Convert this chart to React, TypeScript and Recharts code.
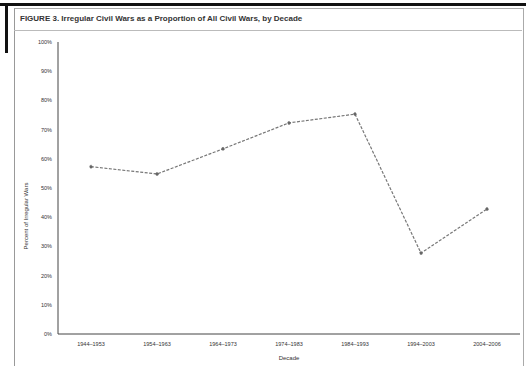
import React from 'react';
import { LineChart, Line, XAxis, YAxis, Label } from 'recharts';

const decades = ['1944–1953', '1954–1963', '1964–1973', '1974–1983', '1984–1993', '1994–2003', '2004–2006'];
const irregularShare = [0.573, 0.548, 0.634, 0.723, 0.753, 0.277, 0.428];
const yTicks = [0, 0.1, 0.2, 0.3, 0.4, 0.5, 0.6, 0.7, 0.8, 0.9, 1.0];
const title = 'FIGURE 3. Irregular Civil Wars as a Proportion of All Civil Wars, by Decade';
const yLabel = 'Percent of Irregular Wars';

const data = decades.map((d, i) => ({ decade: d, share: irregularShare[i] }));

const font = 'Arial, "Liberation Sans", sans-serif';

const YLabelContent = () => (
  <text x={26} y={216} transform="rotate(-90, 26, 216)" textAnchor="middle" dominantBaseline="central" fontSize={6} fill="#333" fontFamily={font}>
    {yLabel}
  </text>
);

export default function App() {
  return (
    <div style={{ position: 'fixed', left: 0, top: 0, width: 528, height: 366, background: '#fff', fontFamily: font }}>
      <div style={{ position: 'absolute', left: 0, top: 3, width: 526, height: 3, background: '#111' }} />
      <div style={{ position: 'absolute', left: 5, top: 3, width: 3, height: 50, background: '#111' }} />
      <div style={{ position: 'absolute', left: 14, top: 8, width: 508, height: 358, borderLeft: '1px solid #999', borderTop: '1px solid #aaa', borderRight: '1px solid #aaa' }} />
      <div style={{ position: 'absolute', left: 14, top: 30, width: 508, height: 1, background: '#bbb' }} />
      <div style={{ position: 'absolute', left: 20, top: 14, fontSize: 8, fontWeight: 600, color: '#333', whiteSpace: 'nowrap' }}>{title}</div>
      <div style={{ position: 'absolute', left: 0, top: 0 }}>
        <LineChart width={528} height={366} data={data} margin={{ top: 42, right: 8, bottom: 8, left: 0 }}>
          <XAxis
            dataKey="decade"
            height={24}
            padding={{ left: 33, right: 33 }}
            tickLine={false}
            tickSize={0}
            tickMargin={8}
            axisLine={{ stroke: '#444', strokeWidth: 1 }}
            tick={{ fontSize: 5.5, fill: '#333', fontFamily: font }}
            interval={0}
            label={{ value: 'Decade', position: 'insideBottom', offset: 0, dy: 2, fontSize: 6, fill: '#333', fontFamily: font }}
          />
          <YAxis
            width={58}
            domain={[0, 1]}
            ticks={yTicks}
            tickFormatter={(v: number) => `${Math.round(v * 100)}%`}
            tickLine={false}
            tickSize={0}
            tickMargin={6}
            axisLine={{ stroke: '#444', strokeWidth: 1 }}
            tick={{ fontSize: 5.5, fill: '#333', fontFamily: font }}
          >
            <Label content={<YLabelContent />} />
          </YAxis>
          <Line
            type="linear"
            dataKey="share"
            stroke="#777"
            strokeWidth={1.2}
            strokeDasharray="3 1.5"
            dot={{ r: 1.5, fill: '#666', stroke: '#666', strokeWidth: 0.5 }}
            isAnimationActive={false}
          />
        </LineChart>
      </div>
    </div>
  );
}
